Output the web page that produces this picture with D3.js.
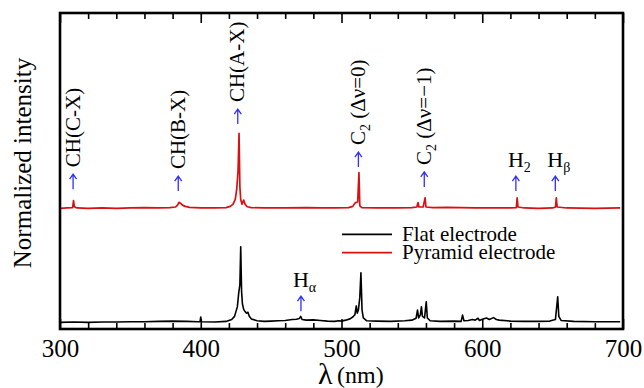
<!DOCTYPE html>
<html>
<head>
<meta charset="utf-8">
<script src="https://cdn.jsdelivr.net/npm/d3@7"></script>
<style>
  html, body { margin: 0; padding: 0; background: #fff; }
  svg { display: block; }
</style>
</head>
<body>
<svg id="chart" width="644" height="388" font-family="Liberation Serif"></svg>
<script>
// Emission spectra: wavelength (nm) and normalized intensity (red trace offset upward)
const flatWavelength = [300,310,320,330,340,350,360,370,380,390,398,399.5,400,400.5,410,418,422,424,426,427,427.8,428.4,429,429.6,430.5,431.5,432.5,433.5,434.5,436,440,445,450,455,460,465,468,470,471,472,475,480,485,490,495,498,500,503,506,508,509.5,510.5,511.2,512,513,513.8,514.6,515.5,518,525,535,545,550,553,554,554.8,556,556.8,557.5,559,560.2,561,563,570,580,585,586,587,590,593,595,597,598,600,603,605,608,610,612,620,630,640,648,652,653.6,654.4,656,665,680,698];
const flatIntensity  = [0.021,0.022,0.021,0.022,0.022,0.023,0.023,0.024,0.025,0.024,0.023,0.023,0.038,0.023,0.022,0.024,0.030,0.040,0.070,0.115,0.140,0.260,0.120,0.080,0.062,0.055,0.050,0.053,0.040,0.032,0.026,0.024,0.025,0.026,0.027,0.030,0.031,0.033,0.040,0.030,0.028,0.029,0.027,0.025,0.024,0.026,0.025,0.028,0.032,0.038,0.045,0.073,0.050,0.060,0.100,0.178,0.060,0.035,0.026,0.025,0.024,0.026,0.028,0.034,0.060,0.035,0.045,0.070,0.040,0.035,0.086,0.035,0.026,0.024,0.025,0.024,0.044,0.026,0.027,0.030,0.028,0.034,0.027,0.031,0.035,0.030,0.036,0.030,0.028,0.025,0.024,0.024,0.025,0.030,0.102,0.040,0.027,0.024,0.023,0.023];

const pyramidWavelength = [300,305,309,309.6,310.2,312,320,330,340,350,360,370,378,382,383.5,384.5,385.5,387,389,392,400,410,418,421,423,424.5,425.5,426.5,427.2,427.8,428.4,429.3,430.5,431.5,433,436,445,460,475,485,495,505,508,509.5,510.5,511.5,512.4,513,514.5,525,540,550,553.5,554.4,555,558,559.4,560,565,575,585,595,610,620,624.2,624.8,625.4,630,640,650,652.1,652.6,653.2,660,680,698];
const pyramidIntensity  = [0.382,0.383,0.384,0.406,0.387,0.383,0.382,0.383,0.382,0.383,0.384,0.383,0.384,0.386,0.392,0.401,0.398,0.392,0.388,0.385,0.383,0.383,0.384,0.388,0.395,0.410,0.440,0.500,0.619,0.450,0.410,0.395,0.408,0.395,0.387,0.384,0.383,0.383,0.384,0.383,0.383,0.384,0.388,0.398,0.401,0.402,0.495,0.390,0.384,0.383,0.383,0.384,0.386,0.400,0.386,0.386,0.415,0.386,0.384,0.385,0.384,0.383,0.383,0.383,0.384,0.415,0.386,0.383,0.382,0.383,0.386,0.415,0.386,0.383,0.382,0.383];

// Peak annotations: wavelength of the arrow and intensity at the arrow tip
const peakLabels   = ["CH(C-X)", "CH(B-X)", "CH(A-X)", "C2 (Δν=0)", "C2 (Δν=−1)", "H2", "Hβ", "Hα"];
const peakLambda   = [309.3, 384.0, 426.3, 512.0, 558.8, 623.9, 651.9, 471.2];
const peakTip      = [0.490, 0.484, 0.696, 0.560, 0.497, 0.484, 0.484, 0.104];
const peakVertical = [true, true, true, true, true, false, false, false];

const xTicksMajor = [300, 400, 500, 600, 700];
const xTicksMinor = [320, 340, 360, 380, 420, 440, 460, 480, 520, 540, 560, 580, 620, 640, 660, 680];

const seriesNames  = ["Flat electrode", "Pyramid electrode"];
const seriesColors = ["#000000", "#da1010"];

const FONT = "Liberation Serif";
const svg = d3.select("#chart");
const m = { left: 60, right: 623, top: 13, bottom: 329 };

const x = d3.scaleLinear().domain([300, 700]).range([m.left, m.right]);
const y = d3.scaleLinear().domain([0, 1]).range([m.bottom, m.top]);

// Spectra
const line = d3.line().x(d => x(d[0])).y(d => y(d[1]));
const flat = flatWavelength.map((w, i) => [w, flatIntensity[i]]);
const pyramid = pyramidWavelength.map((w, i) => [w, pyramidIntensity[i]]);

svg.append("path").datum(pyramid)
  .attr("d", line).attr("fill", "none")
  .attr("stroke", seriesColors[1]).attr("stroke-width", 1.7).attr("stroke-linejoin", "round");
svg.append("path").datum(flat)
  .attr("d", line).attr("fill", "none")
  .attr("stroke", seriesColors[0]).attr("stroke-width", 1.6).attr("stroke-linejoin", "round");

// Axes: inward ticks on bottom and top, labels on bottom only
function styleAxis(g) {
  g.attr("font-family", FONT);
  g.select(".domain").remove();
  g.selectAll(".tick line").attr("stroke", "#000").attr("stroke-width", 1.6);
}
svg.append("g").attr("transform", `translate(0,${m.bottom})`)
  .call(d3.axisBottom(x).tickValues(xTicksMajor).tickSize(-10).tickPadding(10).tickFormat(d3.format("d")))
  .call(styleAxis)
  .call(g => g.attr("font-size", 25).selectAll("text").attr("fill", "#000"));
svg.append("g").attr("transform", `translate(0,${m.bottom})`)
  .call(d3.axisBottom(x).tickValues(xTicksMinor).tickSize(-6).tickFormat(""))
  .call(styleAxis);
svg.append("g").attr("transform", `translate(0,${m.top})`)
  .call(d3.axisTop(x).tickValues(xTicksMajor).tickSize(-10).tickFormat(""))
  .call(styleAxis);
svg.append("g").attr("transform", `translate(0,${m.top})`)
  .call(d3.axisTop(x).tickValues(xTicksMinor).tickSize(-6).tickFormat(""))
  .call(styleAxis);

// Plot frame
svg.append("rect")
  .attr("x", m.left).attr("y", m.top)
  .attr("width", m.right - m.left).attr("height", m.bottom - m.top)
  .attr("fill", "none").attr("stroke", "#000").attr("stroke-width", 2.6);

// Axis titles
svg.append("text")
  .attr("transform", `translate(31,${(m.top + m.bottom) / 2 - 8}) rotate(-90)`)
  .attr("text-anchor", "middle").attr("font-size", 25).attr("font-family", FONT)
  .text("Normalized intensity");
svg.append("text").attr("x", 318).attr("y", 384).attr("font-size", 30).attr("font-family", FONT).text("λ");
svg.append("text").attr("x", 337).attr("y", 382.5).attr("font-size", 24).attr("font-family", FONT).text("(nm)");

// Peak arrows and labels
function addLabel(sel, label) {
  // a leading letter followed by a subscript, e.g. C2, H2, Hβ, Hα
  const sub = label.match(/^(C|H)(2|β|α)(.*)$/);
  if (sub) {
    sel.append("tspan").text(sub[1]);
    sel.append("tspan").attr("font-size", 14).attr("dy", 5).text(sub[2]);
    if (sub[3]) sel.append("tspan").attr("dy", -5).text(sub[3]);
  } else {
    sel.text(label);
  }
}

const arrowColor = "#2f2fff";
peakLabels.forEach((label, i) => {
  const ax = x(peakLambda[i]);
  const ty = y(peakTip[i]);
  const g = svg.append("g");
  g.append("path")
    .attr("d", `M${ax},${ty + 15}V${ty} M${ax - 3.5},${ty + 5}L${ax},${ty}L${ax + 3.5},${ty + 5}`)
    .attr("fill", "none").attr("stroke", arrowColor).attr("stroke-width", 1.3);
  let t;
  if (peakVertical[i]) {
    t = g.append("text")
      .attr("transform", `translate(${ax + 6.5},${ty - 7}) rotate(-90)`)
      .attr("text-anchor", "start").attr("font-size", 21);
  } else {
    t = g.append("text")
      .attr("x", ax - 8).attr("y", ty - 9.5)
      .attr("text-anchor", "start").attr("font-size", 22);
  }
  t.attr("font-family", FONT).attr("fill", "#000");
  addLabel(t, label);
});

// Legend
const legendY = [234.3, 252.7];
seriesNames.forEach((name, i) => {
  svg.append("line")
    .attr("x1", 342).attr("x2", 392).attr("y1", legendY[i]).attr("y2", legendY[i])
    .attr("stroke", seriesColors[i]).attr("stroke-width", 1.8);
  svg.append("text")
    .attr("x", 402).attr("y", legendY[i] + 6.5)
    .attr("font-size", 21).attr("font-family", FONT).attr("fill", "#000").text(name);
});
</script>
</body>
</html>
